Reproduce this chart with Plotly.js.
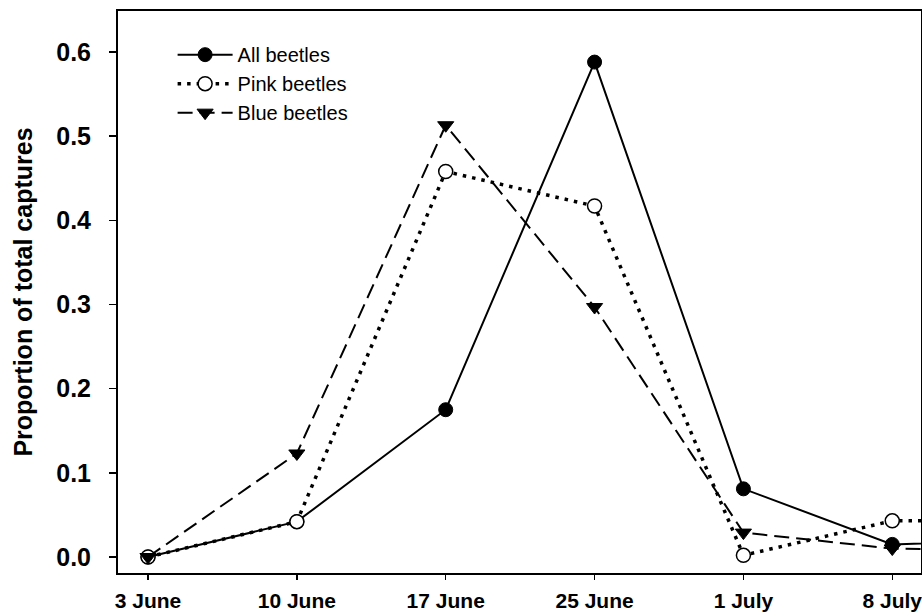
<!DOCTYPE html>
<html>
<head>
<meta charset="utf-8">
<script src="https://cdn.plot.ly/plotly-3.0.1.min.js"></script>
<style>html,body{margin:0;padding:0;background:#fff;}#chart{width:922px;height:616px;}</style>
</head>
<body>
<div id="chart"></div>
<script>
// Sampling dates (equally spaced on the axis); the last one lies beyond the visible frame
const dates = ["3 June", "10 June", "17 June", "25 June", "1 July", "8 July", "15 July"];
const tickLabels = ["3 June", "10 June", "17 June", "25 June", "1 July", "8 July"];
const allBeetles  = [0.000, 0.042, 0.175, 0.588, 0.081, 0.015, 0.021];
const pinkBeetles = [0.000, 0.042, 0.458, 0.417, 0.002, 0.043, 0.043];
const blueBeetles = [0.000, 0.123, 0.513, 0.297, 0.029, 0.010, 0.008];

const xIdx = dates.map((d, i) => i);
const tickIdx = tickLabels.map((d, i) => i);

const traces = [
  {
    x: xIdx, y: allBeetles, name: "All beetles", type: "scatter", mode: "lines+markers",
    legendgroup: "a",
    line: {color: "#000", width: 2, dash: "solid"},
    marker: {symbol: "circle", size: 14, color: "#000", line: {color: "#000", width: 1}}
  },
  {
    x: xIdx, y: pinkBeetles, name: "Pink beetles", type: "scatter", mode: "lines+markers",
    legendgroup: "b",
    line: {color: "#000", width: 3.5, dash: "3.5px,6px"},
    marker: {symbol: "circle", size: 14, color: "#fff", line: {color: "#000", width: 1.5}}
  },
  {
    x: xIdx, y: blueBeetles, name: "Blue beetles", type: "scatter", mode: "lines+markers",
    legendgroup: "c",
    line: {color: "#000", width: 2, dash: "15px,7px"},
    marker: {symbol: "triangle-down", size: 14, color: "#000", line: {color: "#000", width: 1}}
  }
];

const layout = {
  width: 922, height: 616,
  margin: {l: 118, r: 1, t: 11, b: 43},
  paper_bgcolor: "#fff", plot_bgcolor: "#fff",
  font: {family: "Liberation Sans, Arial, sans-serif", color: "#000"},
  showlegend: true,
  legend: {
    x: 0.068, y: 0.957, xanchor: "left", yanchor: "top",
    bgcolor: "rgba(0,0,0,0)", borderwidth: 0,
    font: {size: 20, color: "#000", family: "Liberation Sans, Arial, sans-serif"},
    traceorder: "grouped", tracegroupgap: 0, itemwidth: 55
  },
  xaxis: {
    range: [-0.2016, 5.193],
    tickmode: "array", tickvals: tickIdx, ticktext: tickLabels,
    ticks: "outside", ticklen: 5, tickwidth: 1.5, tickcolor: "#000",
    showline: true, linecolor: "#000", linewidth: 2, mirror: true,
    showgrid: false, zeroline: false,
    tickfont: {size: 21, family: "Liberation Sans, Arial, sans-serif", weight: "bold", color: "#000"},
    ticklabelstandoff: 3, ticklabeloverflow: "allow"
  },
  yaxis: {
    range: [-0.019, 0.6487],
    tickmode: "array", tickvals: [0, 0.1, 0.2, 0.3, 0.4, 0.5, 0.6],
    ticktext: ["0.0", "0.1", "0.2", "0.3", "0.4", "0.5", "0.6"],
    ticks: "outside", ticklen: 7, tickwidth: 1.5, tickcolor: "#000",
    showline: true, linecolor: "#000", linewidth: 2, mirror: true,
    showgrid: false, zeroline: false,
    tickfont: {size: 25, family: "Liberation Sans, Arial, sans-serif", weight: "bold", color: "#000"},
    ticklabelstandoff: 13,
    title: {text: "Proportion of total captures", standoff: 16,
            font: {size: 25, family: "Liberation Sans, Arial, sans-serif", weight: "bold", color: "#000"}}
  }
};

Plotly.newPlot("chart", traces, layout, {displayModeBar: false, staticPlot: true});
</script>
</body>
</html>
